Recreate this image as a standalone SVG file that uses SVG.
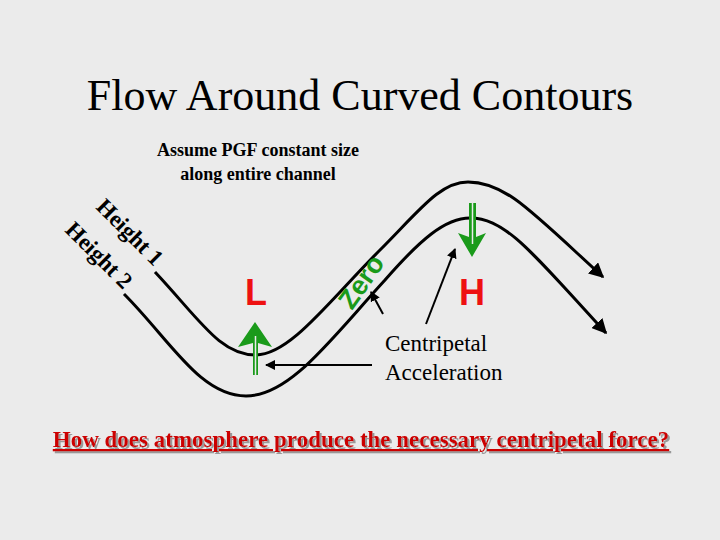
<svg xmlns="http://www.w3.org/2000/svg" width="720" height="540" viewBox="0 0 720 540">
<defs>
<marker id="ah" viewBox="0 0 10 10" refX="9" refY="5" markerWidth="5" markerHeight="5" orient="auto"><path d="M0,0 L10,5 L0,10 z" fill="#000"/></marker>
<filter id="sh" x="-5%" y="-20%" width="110%" height="160%"><feDropShadow dx="2" dy="2" stdDeviation="0.5" flood-color="#999"/></filter>
<style>
.c{fill:none;stroke:#000;stroke-width:3}
.t{font-family:"Liberation Serif",serif;fill:#000}
.g{fill:#1a9a1a}
.big{font-family:"Liberation Sans",sans-serif;font-weight:bold;fill:#ee1111;font-size:36px}
</style>
</defs>
<rect width="720" height="540" fill="#ebebeb"/>
<text class="t" x="360" y="110" font-size="44" text-anchor="middle">Flow Around Curved Contours</text>
<text class="t" x="258" y="156" font-size="18" font-weight="bold" text-anchor="middle">Assume PGF constant size</text>
<text class="t" x="258" y="180" font-size="18" font-weight="bold" text-anchor="middle">along entire channel</text>
<g id="connectors">
<path class="c" d="M155,272 C200,320 220,355 256,355 C290,355 330,300 380,250 C420,210 440,182 468,182 C505,182 530,210 603,277" marker-end="url(#ah)"/>
<path class="c" d="M124,294 C170,340 200,396 246,396 C290,396 330,340 385,280 C420,240 445,218 470,218 C505,218 530,250 606,333" marker-end="url(#ah)"/>
<path d="M372,365 L266,365" stroke="#000" stroke-width="2" marker-end="url(#ah)"/>
<path d="M426,324 L455,249" stroke="#000" stroke-width="2" marker-end="url(#ah)"/>
<path d="M383,314 L371,292" stroke="#000" stroke-width="2" marker-end="url(#ah)"/>
</g>
<g id="h1"><text class="t" font-size="23" font-weight="bold" transform="translate(95,208) rotate(45)">Height 1</text></g>
<g id="h2"><text class="t" font-size="23" font-weight="bold" transform="translate(64,231) rotate(45)">Height 2</text></g>
<g id="L"><text class="big" x="256" y="305" text-anchor="middle">L</text></g>
<g id="H"><text class="big" x="472" y="305" text-anchor="middle">H</text></g>
<g id="zero"><text font-family="Liberation Sans,sans-serif" font-weight="bold" font-size="27" fill="#1a9a1a" transform="translate(352,311) rotate(-55)">Zero</text></g>
<g id="upArrow">
<polygon class="g" points="255,322 272,347 258,343 258,375 253,375 253,343 238,347"/>
<line x1="255.5" y1="336" x2="255.5" y2="375" stroke="#ebebeb" stroke-width="1.5"/>
</g>
<g id="downArrow">
<polygon class="g" points="472,257 486,233 476,237 476,203 469,203 469,237 458,233"/>
<line x1="472.5" y1="203" x2="472.5" y2="244" stroke="#ebebeb" stroke-width="1.5"/>
</g>
<g id="cent">
<text class="t" x="385" y="351" font-size="23">Centripetal</text>
<text class="t" x="385" y="380" font-size="23">Acceleration</text>
</g>
<text x="361" y="447" font-family="Liberation Serif,serif" font-size="23" font-weight="bold" fill="#cc0000" text-anchor="middle" text-decoration="underline" filter="url(#sh)">How does atmosphere produce the necessary centripetal force?</text>
</svg>
